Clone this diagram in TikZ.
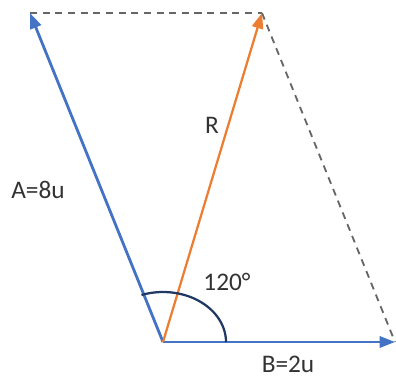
\documentclass[tikz,border=0pt]{standalone}
\usepackage{fontspec}
\setmainfont{Carlito}
\usetikzlibrary{arrows.meta}
\definecolor{vecblue}{RGB}{68,114,196}
\definecolor{vecorange}{RGB}{237,125,49}
\definecolor{arcnavy}{RGB}{31,56,100}
\begin{document}
\begin{tikzpicture}[
    vec/.style={line width=2pt, -{Triangle[length=11pt,width=8pt]}},
    guide/.style={gray!80!black, line width=1.3pt, dashed, dash pattern=on 5pt off 4pt},
    lbl/.style={font=\fontsize{18}{21}\selectfont, text=black!80, inner sep=1pt}
  ]
    \useasboundingbox (0,0) rectangle (9.9,9.425);

    % Points
    \coordinate (O) at (4.075,0.875);
    \coordinate (A) at (0.75,9.1);
    \coordinate (B) at (9.875,0.875);
    \coordinate (R) at (6.55,9.1);

    % Parallelogram sides
    \draw[guide] (A) -- (R);
    \draw[guide] (R) -- (B);

    % Vectors
    \draw[vec, vecblue] (O) -- (A);
    \draw[vec, vecblue] (O) -- (B);
    \draw[vec, vecorange, line width=1.6pt] (O) -- (R);

    % Angle
    \draw[arcnavy, line width=1.6pt] ([xshift=1.575cm]O)
      arc[start angle=0, end angle=110, x radius=1.575, y radius=1.25];

    % Labels
    \node[lbl] (labA) at (0.95,4.675) {A=8u};
    \node[lbl] (labR) at (5.3,6.3) {R};
    \node[lbl] (labang) at (5.675,2.375) {120°};
    \node[lbl] (labB) at (7.2,0.32) {B=2u};

\end{tikzpicture}
\end{document}
